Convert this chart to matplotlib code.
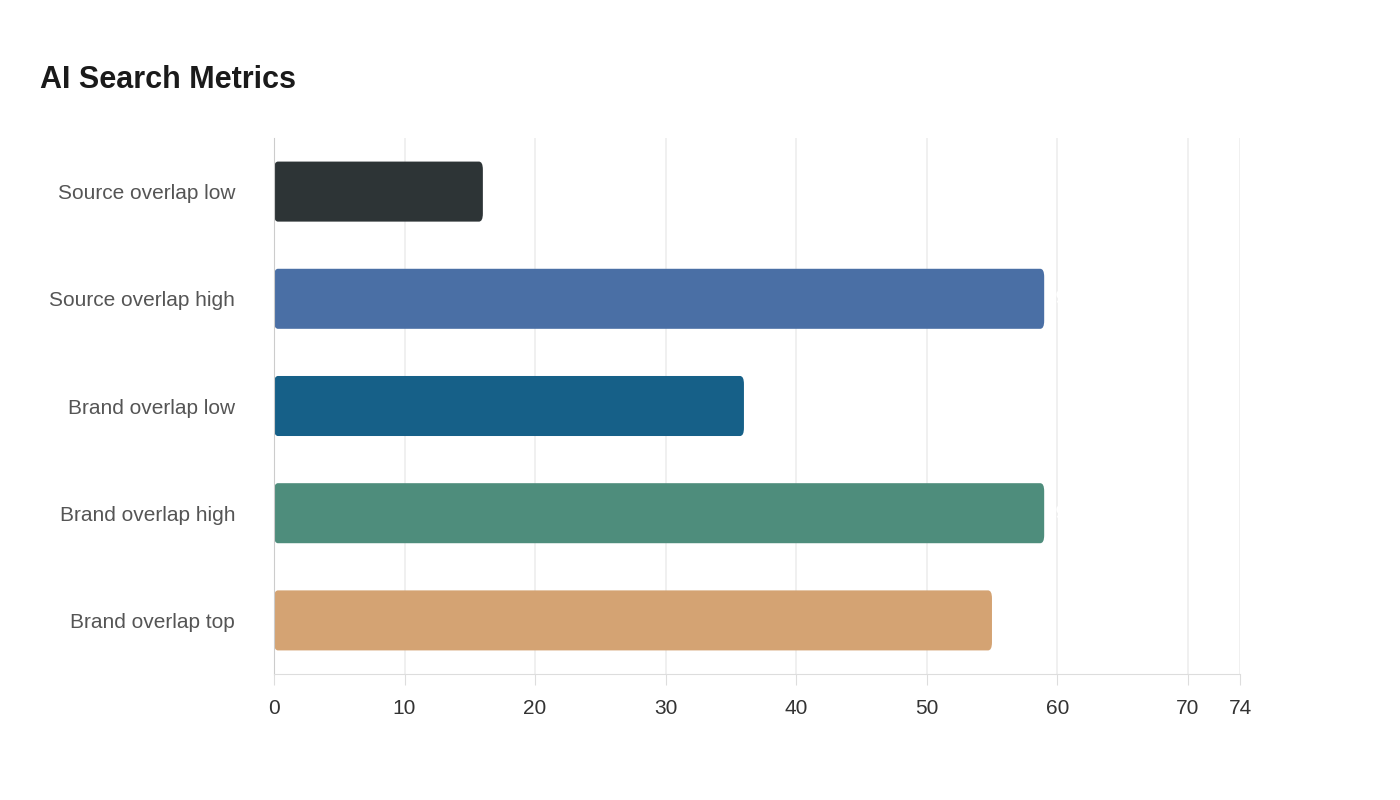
import matplotlib
matplotlib.use("Agg")
import matplotlib.pyplot as plt
from matplotlib.patches import FancyBboxPatch

categorias = ["Source overlap low", "Source overlap high", "Brand overlap low",
              "Brand overlap high", "Brand overlap top"]
valores = [16, 59, 36, 59, 55]
colores = ["#2d3436", "#4a6fa5", "#166088", "#4e8d7c", "#d4a373"]
ticks = [0, 10, 20, 30, 40, 50, 60, 70, 74]

plt.rcParams["font.family"] = ["Liberation Sans", "DejaVu Sans"]
fig = plt.figure(figsize=(14, 8), dpi=100)
ax = fig.add_axes([274 / 1400, 1 - 674 / 800, 966 / 1400, 536 / 800])
fig.text(40 / 1400, 1 - 80 / 800, "AI Search Metrics", fontsize=22, fontweight="bold",
         color="#1a1a1a", va="center")

y = list(range(len(categorias)))
h = 0.56
for yi, v, c in zip(y, valores, colores):
    ax.add_patch(FancyBboxPatch((0, yi - h / 2), v, h,
                                boxstyle="round,pad=0,rounding_size=0.3",
                                mutation_aspect=0.25, fc=c, ec="none", zorder=2))
    ax.text(v, yi, str(v), color="white", fontsize=15, fontweight="bold",
            ha="left", va="center", zorder=3)

ax.set_xlim(0, 74)
ax.set_ylim(len(categorias) - 0.5, -0.5)
ax.set_yticks(y)
ax.set_yticklabels(categorias, fontsize=15, color="#555555")
ax.set_xticks(ticks)
ax.set_xticklabels([str(t) for t in ticks], fontsize=15, color="#333333")
ax.tick_params(axis="y", length=0, pad=28)
ax.tick_params(axis="x", length=8, color="#dddddd", pad=10)
ax.grid(axis="x", color="#eeeeee", linewidth=1.2, zorder=0)
for s in ["top", "right"]:
    ax.spines[s].set_visible(False)
ax.spines["left"].set_color("#cccccc")
ax.spines["bottom"].set_color("#dddddd")

plt.savefig("out.png", dpi=100)
